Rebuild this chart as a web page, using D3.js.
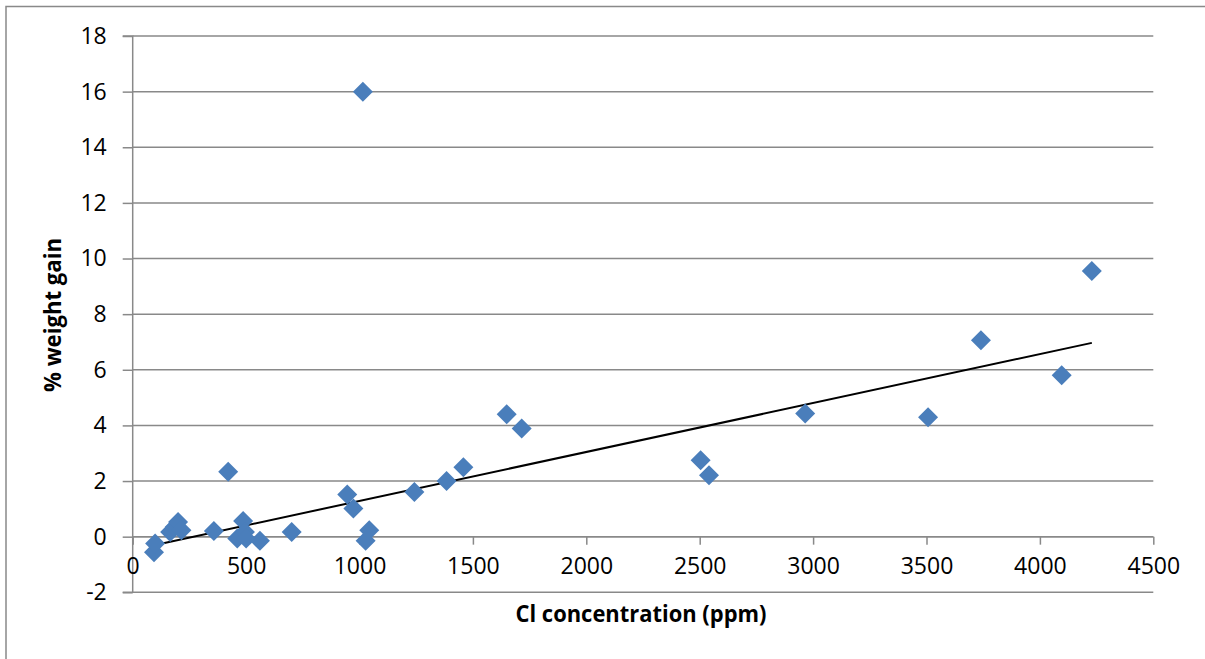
<!DOCTYPE html>
<html>
<head>
<meta charset="utf-8">
<script src="https://cdn.jsdelivr.net/npm/d3@7"></script>
<style>
html,body{margin:0;padding:0;background:#fff;}
svg{display:block;}
text{font-family:"Open Sans","Liberation Sans",sans-serif;fill:#000;}
</style>
</head>
<body>
<svg id="chart" width="1205" height="659"></svg>
<script>
// Data
const clPpm = [94, 99, 165, 185, 200, 215, 358, 421, 461, 487, 495, 500, 561, 701, 946, 973, 1015, 1027, 1043, 1242, 1384, 1458, 1649, 1715, 2504, 2541, 2965, 3507, 3740, 4096, 4229];
const weightGain = [-0.56, -0.25, 0.17, 0.35, 0.53, 0.23, 0.2, 2.33, -0.07, 0.56, 0.17, -0.07, -0.15, 0.17, 1.52, 1.01, 16.0, -0.15, 0.23, 1.61, 2.0, 2.5, 4.4, 3.89, 2.75, 2.21, 4.43, 4.29, 7.06, 5.8, 9.55];
const xTicks = [0, 500, 1000, 1500, 2000, 2500, 3000, 3500, 4000, 4500];
const yTicks = [-2, 0, 2, 4, 6, 8, 10, 12, 14, 16, 18];
const trendSlope = 0.00176;
const trendIntercept = -0.475;
const xTitle = "Cl concentration (ppm)";
const yTitle = "% weight gain";

const svg = d3.select("#chart");
const gridColor = "#898989";

// chart frame
svg.append("rect").attr("x", 6).attr("y", 6.5).attr("width", 1300).attr("height", 800)
  .attr("fill", "none").attr("stroke", gridColor).attr("stroke-width", 1.5);

const x = d3.scaleLinear().domain([0, 4500]).range([132.7, 1153.3]);
const y = d3.scaleLinear().domain([-2, 18]).range([592.3, 36]);

// horizontal gridlines
svg.append("g").selectAll("line").data(yTicks).join("line")
  .attr("x1", x(0)).attr("x2", x(4500))
  .attr("y1", d => y(d)).attr("y2", d => y(d))
  .attr("stroke", gridColor).attr("stroke-width", 1.5);

const fmt = d => String(d);

// y axis
const yAxis = d3.axisLeft(y).tickValues(yTicks).tickSize(10).tickPadding(16).tickFormat(fmt);
const gy = svg.append("g").attr("transform", `translate(${x(0)},0)`).call(yAxis);
gy.select(".domain").attr("stroke", gridColor).attr("stroke-width", 1.5).attr("d", `M-10,${y(18)}H0V${y(-2)}H-10`);
gy.selectAll(".tick line").attr("stroke", gridColor).attr("stroke-width", 1.5);
gy.selectAll(".tick text").style("font-size", "23px").style("font-family", "'Open Sans'").attr("fill", "#000");

// x axis at y = 0
const xAxis = d3.axisBottom(x).tickValues(xTicks).tickSize(8).tickPadding(13).tickFormat(fmt);
const gx = svg.append("g").attr("transform", `translate(0,${y(0)})`).call(xAxis);
gx.select(".domain").attr("stroke", gridColor).attr("stroke-width", 1.5).attr("d", `M${x(0)},0H${x(4500)}`);
gx.selectAll(".tick line").attr("stroke", gridColor).attr("stroke-width", 1.5);
gx.selectAll(".tick text").style("font-size", "23px").style("font-family", "'Open Sans'").attr("fill", "#000");

// trend line (from min to max x)
const xMin = d3.min(clPpm), xMax = d3.max(clPpm);
svg.append("line")
  .attr("x1", x(xMin)).attr("y1", y(trendIntercept + trendSlope * xMin))
  .attr("x2", x(xMax)).attr("y2", y(trendIntercept + trendSlope * xMax))
  .attr("stroke", "#000").attr("stroke-width", 2);

// diamonds
const r = 10;
const pts = clPpm.map((v, i) => ({ x: v, y: weightGain[i] }));
svg.append("g").selectAll("path").data(pts).join("path")
  .attr("transform", d => `translate(${x(d.x)},${y(d.y)})`)
  .attr("d", `M0,${-r}L${r},0L0,${r}L${-r},0Z`)
  .attr("fill", "#4a7ebb");

// titles
svg.append("text").attr("x", 641).attr("y", 622).attr("text-anchor", "middle")
  .style("font-size", "23px").style("font-weight", "bold")
  .attr("textLength", 251).attr("lengthAdjust", "spacingAndGlyphs").text(xTitle);
svg.append("text").attr("transform", "translate(61,315) rotate(-90)").attr("text-anchor", "middle")
  .style("font-size", "23px").style("font-weight", "bold")
  .attr("textLength", 154).attr("lengthAdjust", "spacingAndGlyphs").text(yTitle);
</script>
</body>
</html>
